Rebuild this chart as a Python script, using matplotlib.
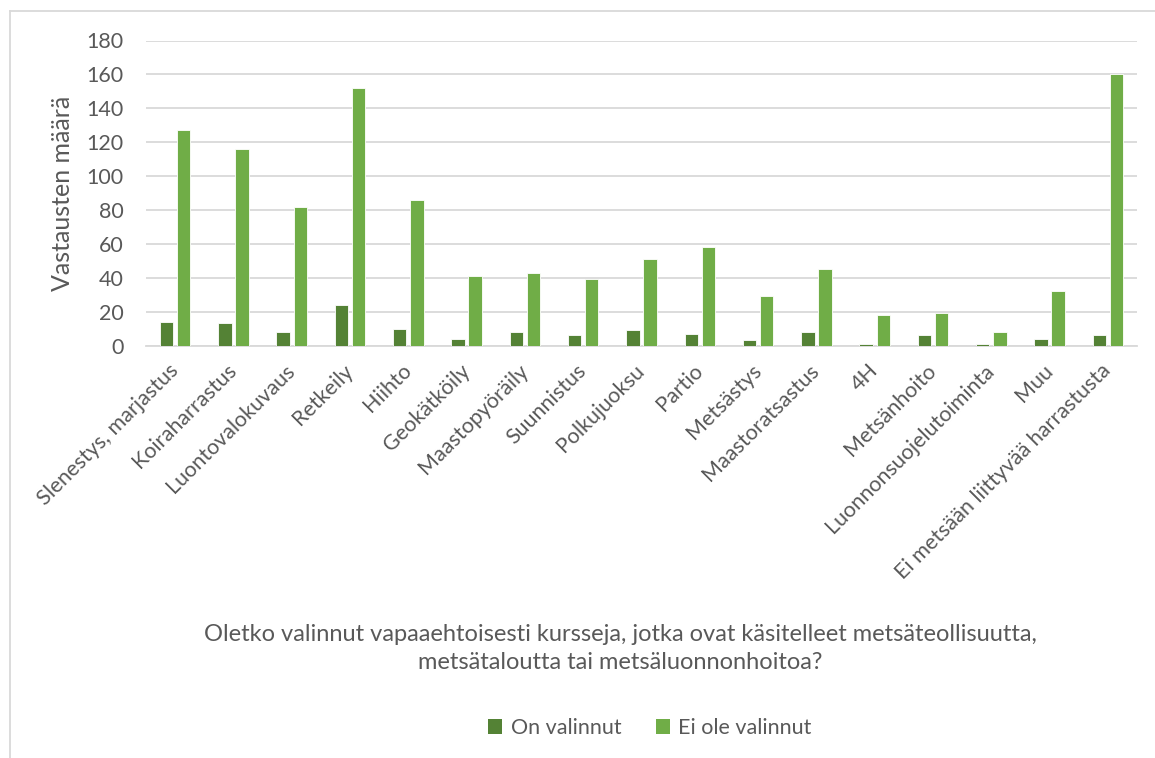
import matplotlib
matplotlib.use("Agg")
import matplotlib.pyplot as plt
from matplotlib.lines import Line2D
from matplotlib.patches import Patch
import numpy as np

categories = ["Slenestys, marjastus", "Koiraharrastus", "Luontovalokuvaus", "Retkeily",
              "Hiihto", "Geokätköily", "Maastopyöräily", "Suunnistus", "Polkujuoksu",
              "Partio", "Metsästys", "Maastoratsastus", "4H", "Metsänhoito",
              "Luonnonsuojelutoiminta", "Muu", "Ei metsään liittyvää harrastusta"]
on_valinnut = [14, 13, 8, 24, 10, 4, 8, 6, 9, 7, 3, 8, 1, 6, 1, 4, 6]
ei_ole_valinnut = [127, 116, 82, 152, 86, 41, 43, 39, 51, 58, 29, 45, 18, 19, 8, 32, 160]
series_names = ["On valinnut", "Ei ole valinnut"]
yticks = [0, 20, 40, 60, 80, 100, 120, 140, 160, 180]
y_title = "Vastausten määrä"
x_title = "Oletko valinnut vapaaehtoisesti kursseja, jotka ovat käsitelleet metsäteollisuutta,\nmetsätaloutta tai metsäluonnonhoitoa?"

DARK = "#548235"
LIGHT = "#70AD47"
TXT = "#595959"
FONT = ["Lato", "DejaVu Sans"]
plt.rcParams["font.family"] = FONT

W, H = 1155, 758
fig = plt.figure(figsize=(W / 100, H / 100), dpi=100)
ax = fig.add_axes([146 / W, 1 - 345.5 / H, (1137 - 146) / W, (345.5 - 40.5) / H])

x = np.arange(len(categories))
bw = 0.23
off = 0.147
ax.bar(x - off, on_valinnut, bw, color=DARK, edgecolor="white", linewidth=0.6, zorder=3)
ax.bar(x + off, ei_ole_valinnut, bw, color=LIGHT, edgecolor="white", linewidth=0.6, zorder=3)

ax.set_xlim(-0.5, len(categories) - 0.5)
ax.set_ylim(0, 180)
ax.set_yticks(yticks)
ax.set_yticklabels([str(v) for v in yticks])
ax.yaxis.grid(True, color="#D9D9D9", linewidth=1.3, zorder=0)
ax.set_axisbelow(True)
for s in ["top", "right", "left"]:
    ax.spines[s].set_visible(False)
ax.spines["bottom"].set_color("#D9D9D9")
ax.spines["bottom"].set_linewidth(1.3)
ax.tick_params(axis="y", length=0, pad=16, labelsize=15.5, labelcolor=TXT)
ax.tick_params(axis="x", length=0, pad=6, labelsize=15.5, labelcolor=TXT)
ax.set_xticks(x)
ax.set_xticklabels(categories, rotation=45, ha="right", va="center", rotation_mode="anchor")
for lbl in ax.get_xticklabels():
    lbl.set_y(-0.045)

ax.set_ylabel(y_title, fontsize=18, color=TXT)
ax.yaxis.label.set_va("center")
ax.yaxis.set_label_coords(-(146 - 62) / (1137 - 146), 0.5)

fig.text(620 / W, 1 - 648.5 / H, x_title, ha="center", va="center", fontsize=17,
         color=TXT, linespacing=1.45)

handles = [Patch(facecolor=DARK), Patch(facecolor=LIGHT)]
fig.legend(handles, series_names, loc="center", bbox_to_anchor=(650 / W, 1 - 728 / H),
           ncol=2, frameon=False, fontsize=15.5, labelcolor=TXT, handlelength=0.65,
           handleheight=0.65, handletextpad=0.4, columnspacing=1.6)

fig.add_artist(Line2D([9.5 / W, 9.5 / W], [0, 1 - 11 / H], transform=fig.transFigure,
                      color="#D9D9D9", linewidth=1.3))
fig.add_artist(Line2D([9.5 / W, 1], [1 - 11 / H, 1 - 11 / H], transform=fig.transFigure,
                      color="#D9D9D9", linewidth=1.3))

fig.savefig("out.png", dpi=100, facecolor="white")
